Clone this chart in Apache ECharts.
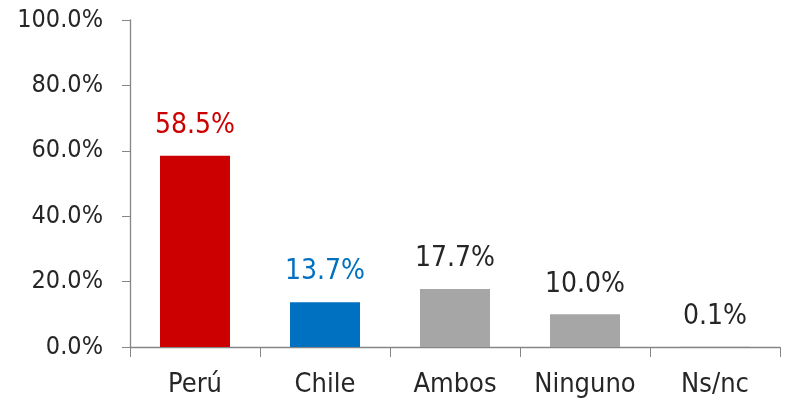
<!DOCTYPE html>
<html>
<head>
<meta charset="utf-8">
<script src="https://cdn.jsdelivr.net/npm/echarts@6/dist/echarts.min.js"></script>
<style>
  html, body { margin: 0; padding: 0; background: #fff; }
  #chart { width: 792px; height: 411px; }
</style>
</head>
<body>
<div id="chart"></div>
<script>
// Datos
const categories = ['Perú', 'Chile', 'Ambos', 'Ninguno', 'Ns/nc'];
const values = [58.5, 13.7, 17.7, 10.0, 0.1];
const barColors = ['#CC0000', '#0070C0', '#A6A6A6', '#A6A6A6', '#A6A6A6'];
const labelColors = ['#CC0000', '#0070C0', '#262626', '#262626', '#262626'];

const FONT = 'DejaVu Sans Condensed';
const chart = echarts.init(document.getElementById('chart'), null, { renderer: 'canvas' });

chart.setOption({
  animation: false,
  grid: { left: 130, right: 12, top: 20, bottom: 64 },
  xAxis: {
    type: 'category',
    data: categories,
    axisLine: { lineStyle: { color: '#868686', width: 1.3 } },
    axisTick: { show: true, interval: 0, length: 10, alignWithLabel: false, lineStyle: { color: '#868686' } },
    axisLabel: { interval: 0, color: '#262626', fontFamily: FONT, fontSize: 27, margin: 24 }
  },
  yAxis: {
    type: 'value',
    min: 0,
    max: 100,
    interval: 20,
    splitLine: { show: false },
    axisLine: { show: true, lineStyle: { color: '#868686', width: 1.3 } },
    axisTick: { show: true, length: 8, lineStyle: { color: '#868686' } },
    axisLabel: {
      color: '#262626', fontFamily: FONT, fontSize: 25, margin: 27,
      formatter: (v) => v.toFixed(1) + '%'
    }
  },
  series: [{
    type: 'bar',
    barWidth: 70,
    data: values.map((v, i) => ({
      value: v,
      itemStyle: { color: barColors[i] },
      label: { color: labelColors[i] }
    })),
    label: {
      show: true,
      position: 'top',
      distance: 16,
      fontFamily: FONT,
      fontSize: 28,
      formatter: (p) => p.value.toFixed(1) + '%'
    }
  }]
});
</script>
</body>
</html>
